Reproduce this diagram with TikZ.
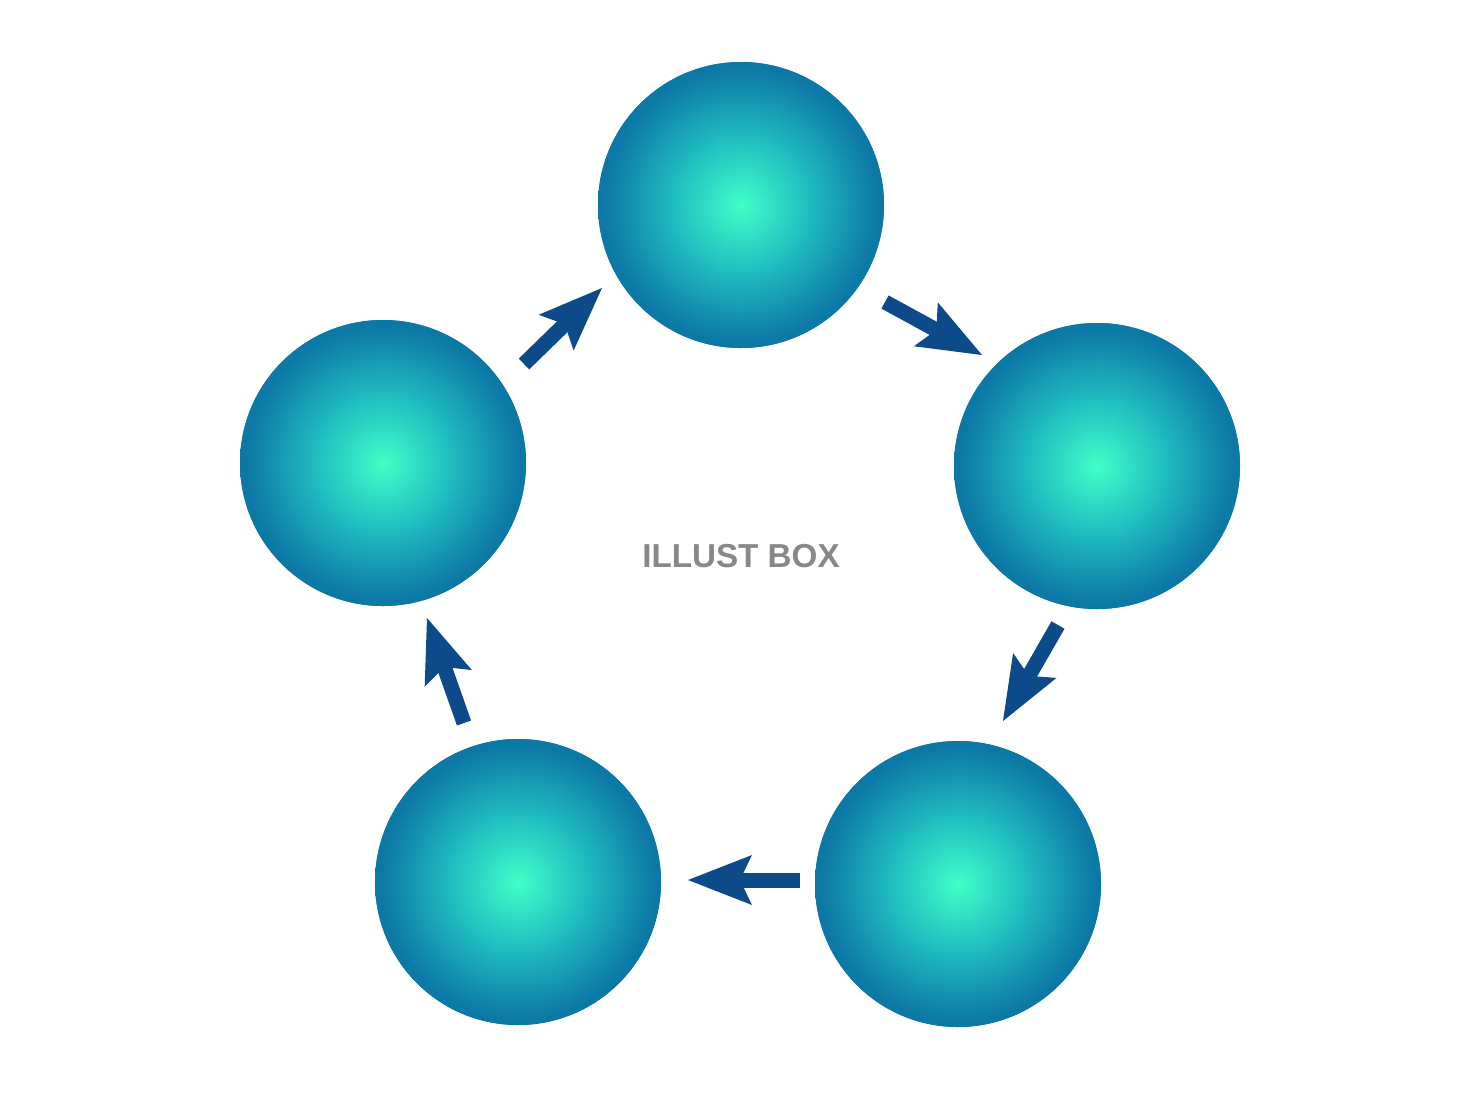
\documentclass[tikz,border=0pt]{standalone}
\usepackage{fontspec}
\setsansfont{Liberation Sans}
\usetikzlibrary{arrows.meta}
\definecolor{cin}{RGB}{64,255,200}
\definecolor{cmid}{RGB}{30,182,190}
\definecolor{cout}{RGB}{12,120,166}
\definecolor{arrowblue}{RGB}{12,74,138}
\definecolor{textgray}{RGB}{136,136,136}
\pgfdeclareradialshading{ball}{\pgfpoint{0bp}{0bp}}{color(0bp)=(cin); color(13bp)=(cmid); color(24bp)=(cout); color(50bp)=(cout)}
\tikzset{
  ball/.style={circle, minimum size=143pt, inner sep=0pt, shading=ball,
    preaction={fill=cout}},
  flow/.style={draw=arrowblue, line width=7.5pt,
    -{Stealth[length=32pt, width=25pt, inset=6pt, line width=0pt, fill=arrowblue]}},
  label/.style={font=\sffamily\bfseries\fontsize{16.6}{19}\selectfont, text=textgray}
}
\begin{document}
\begin{tikzpicture}[x=0.5pt, y=-0.5pt]
\useasboundingbox[fill=white] (0,0) rectangle (1480,1110);
\node[ball] (top) at (741,205) {};
\node[ball] (right) at (1097,466) {};
\node[ball] (bright) at (958,884) {};
\node[ball] (bleft) at (518,882) {};
\node[ball] (left) at (383,463) {};
\node[label] (title) at (741,556) {ILLUST BOX};
\coordinate (a1s) at (885,302); \coordinate (a1e) at (982,355);
\coordinate (a2s) at (1058,625); \coordinate (a2e) at (1003,721);
\coordinate (a3s) at (800,880); \coordinate (a3e) at (688,880);
\coordinate (a4s) at (464,723); \coordinate (a4e) at (427,618);
\coordinate (a5s) at (524,364); \coordinate (a5e) at (602,288);
\draw[flow] (a1s) -- (a1e);
\draw[flow] (a2s) -- (a2e);
\draw[flow] (a3s) -- (a3e);
\draw[flow] (a4s) -- (a4e);
\draw[flow] (a5s) -- (a5e);
\end{tikzpicture}
\end{document}
